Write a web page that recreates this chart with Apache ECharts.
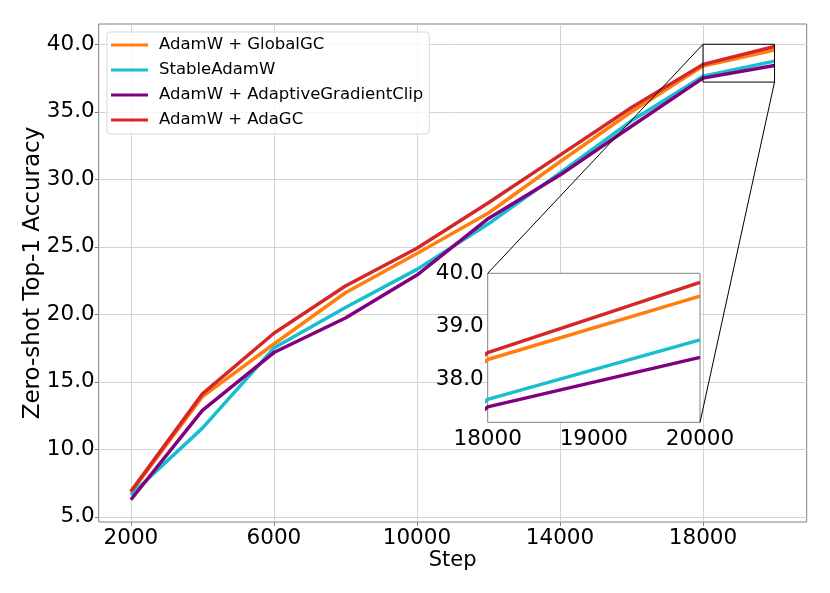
<!DOCTYPE html>
<html>
<head>
<meta charset="utf-8">
<title>Zero-shot Top-1 Accuracy</title>
<style>
    body { margin: 0; padding: 0; background: #fff; }
    #chart { width: 830px; height: 593px; }
</style>
<script src="https://cdn.jsdelivr.net/npm/echarts@6/dist/echarts.min.js"></script>
</head>
<body>
<div id="chart"></div>
<script>
    var steps = [2000, 4000, 6000, 8000, 10000, 12000, 14000, 16000, 18000, 20000];
    var globalGC = [6.80, 13.90, 17.80, 21.60, 24.50, 27.50, 31.30, 35.00, 38.38, 39.57];
    var stableAdamW = [6.64, 11.57, 17.50, 20.50, 23.33, 26.70, 30.48, 34.33, 37.63, 38.75];
    var adaptiveClip = [6.27, 12.88, 17.17, 19.73, 22.91, 27.10, 30.31, 33.93, 37.49, 38.42];
    var adaGC = [6.89, 14.11, 18.60, 22.10, 24.89, 28.26, 31.79, 35.32, 38.51, 39.83];

    var names = ['AdamW + GlobalGC', 'StableAdamW', 'AdamW + AdaptiveGradientClip', 'AdamW + AdaGC'];
    var colors = ['#ff7f0e', '#17becf', '#800080', '#d62728'];
    var values = [globalGC, stableAdamW, adaptiveClip, adaGC];

    var xTicks = [2000, 6000, 10000, 14000, 18000];
    var yTicks = [5, 10, 15, 20, 25, 30, 35, 40];
    var insetYTicks = [38, 39, 40];
    var zoomX = [18000, 20000];
    var zoomY = [37.2, 40.0];

    var font = 'DejaVu Sans';
    var gridColor = '#d4d4d4';
    var spineColor = '#808080';

    function pairs(ys) {
        return steps.map(function (s, i) { return [s, ys[i]]; });
    }

    var series = [];
    names.forEach(function (n, i) {
        series.push({
            name: n, type: 'line', data: pairs(values[i]),
            symbol: 'none', color: colors[i],
            lineStyle: {width: 3.5, color: colors[i]},
            z: 2
        });
    });
    names.forEach(function (n, i) {
        series.push({
            name: n, type: 'line', data: pairs(values[i]),
            xAxisIndex: 1, yAxisIndex: 1,
            symbol: 'none', color: colors[i],
            lineStyle: {width: 3.5, color: colors[i]},
            clip: true, z: 3
        });
    });

    var tickLabel = {fontSize: 21.5, fontFamily: font, color: '#000'};

    var chart = echarts.init(document.getElementById('chart'));
    chart.setOption({
        animation: false,
        backgroundColor: '#fff',
        grid: [
            {left: 98.7, top: 24, width: 708, height: 498, show: true,
             borderColor: spineColor, borderWidth: 1, backgroundColor: 'transparent'},
            {left: 487.7, top: 273.3, width: 212.3, height: 149, show: true, z: 1,
             borderColor: spineColor, borderWidth: 1, backgroundColor: '#fff'}
        ],
        legend: {
            data: names, orient: 'vertical', left: 107, top: 32,
            icon: 'rect', itemWidth: 37, itemHeight: 3, itemGap: 7,
            padding: [4, 6, 5, 4],
            textStyle: {fontSize: 16.5, fontFamily: font, color: '#000', lineHeight: 18, padding: [0, 0, 0, 6]},
            borderColor: '#d8d8d8', borderWidth: 1, borderRadius: 3,
            backgroundColor: 'rgba(255,255,255,0.8)'
        },
        xAxis: [
            {type: 'value', gridIndex: 0, min: 1100, max: 20900,
             name: 'Step', nameLocation: 'middle', nameGap: 28, nameMoveOverlap: false,
             nameTextStyle: {fontSize: 21, fontFamily: font, color: '#000'},
             axisLine: {show: false},
             axisTick: {show: true, length: 4, customValues: xTicks, lineStyle: {color: spineColor}},
             axisLabel: Object.assign({customValues: xTicks, margin: 5,
                 formatter: function (v) { return String(v); }}, tickLabel),
             splitLine: {show: true, lineStyle: {color: gridColor, width: 1}}},
            {type: 'value', gridIndex: 1, min: zoomX[0], max: zoomX[1], interval: 1000,
             axisLine: {show: false},
             axisTick: {show: false},
             axisLabel: Object.assign({margin: 6, formatter: function (v) { return String(v); }}, tickLabel),
             splitLine: {show: false}, z: 2}
        ],
        yAxis: [
            {type: 'value', gridIndex: 0, min: 4.62, max: 41.5,
             name: 'Zero-shot Top-1 Accuracy', nameLocation: 'middle', nameGap: 54, nameMoveOverlap: false,
             nameTextStyle: {fontSize: 23, fontFamily: font, color: '#000'},
             axisLine: {show: false},
             axisTick: {show: true, length: 4, customValues: yTicks, lineStyle: {color: spineColor}},
             axisLabel: Object.assign({customValues: yTicks, margin: 4,
                 formatter: function (v) { return v.toFixed(1); }}, tickLabel),
             splitLine: {show: true, lineStyle: {color: gridColor, width: 1}}},
            {type: 'value', gridIndex: 1, min: zoomY[0], max: zoomY[1],
             axisLine: {show: false},
             axisTick: {show: false, customValues: insetYTicks},
             axisLabel: Object.assign({customValues: insetYTicks, margin: 4,
                 formatter: function (v) { return v.toFixed(1); }}, tickLabel),
             splitLine: {show: false}, z: 2}
        ],
        series: series
    });

    // zoom box on the main chart and the two connectors to the inset
    var a = chart.convertToPixel({gridIndex: 0}, [zoomX[0], zoomY[1]]);
    var b = chart.convertToPixel({gridIndex: 0}, [zoomX[1], zoomY[0]]);
    var c = chart.convertToPixel({gridIndex: 1}, [zoomX[0], zoomY[1]]);
    var d = chart.convertToPixel({gridIndex: 1}, [zoomX[1], zoomY[0]]);
    var edge = {stroke: '#000', lineWidth: 1, fill: null};
    chart.setOption({
        graphic: [
            {type: 'rect', z: 3, shape: {x: a[0], y: a[1], width: b[0] - a[0], height: b[1] - a[1]}, style: edge},
            {type: 'line', z: 3, shape: {x1: a[0], y1: a[1], x2: c[0], y2: c[1]}, style: edge},
            {type: 'line', z: 3, shape: {x1: b[0], y1: b[1], x2: d[0], y2: d[1]}, style: edge}
        ]
    });
</script>
</body>
</html>
